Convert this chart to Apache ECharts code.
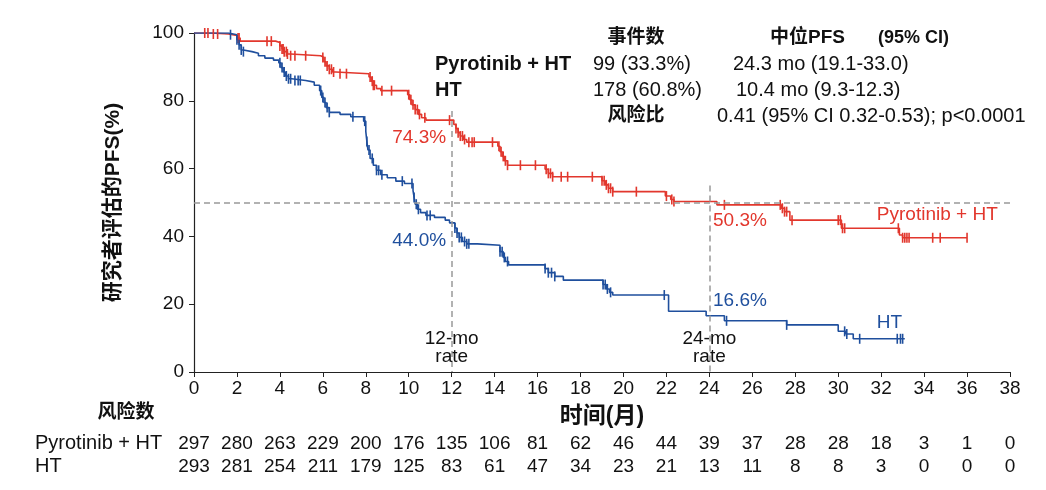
<!DOCTYPE html>
<html>
<head>
<meta charset="utf-8">
<script src="https://cdn.jsdelivr.net/npm/echarts@6/dist/echarts.min.js"></script>
<style>
html,body{margin:0;padding:0;background:#fff;}
#c{width:1046px;height:490px;}
</style>
</head>
<body>
<div id="c"></div>
<script>
// ---------- DATA ----------
const xTicks = [0,2,4,6,8,10,12,14,16,18,20,22,24,26,28,30,32,34,36,38];
const groups = ['Pyrotinib + HT', 'HT'];

// Kaplan-Meier steps [month, survival %] (value after the drop at that month)
const pyroSteps = [[0,100],[0.8,99.7],[1.6,99.3],[2.0,98.5],[2.15,97.6],[3.8,97.2],[4.0,96.2],[4.1,95.3],[4.2,94.5],[4.35,93.8],[4.5,93.3],[5.9,92.8],[6.05,91.5],[6.15,90.3],[6.3,89.3],[6.45,88.5],[6.6,88.0],[8.15,87.0],[8.25,85.8],[8.35,84.6],[8.5,83.6],[8.7,83.0],[9.95,81.8],[10.05,80.3],[10.15,78.8],[10.3,77.4],[10.45,76.0],[10.6,75.0],[10.8,74.3],[12.1,73.0],[12.2,71.8],[12.3,70.6],[12.4,69.6],[12.55,68.6],[12.7,67.8],[14.15,66.6],[14.25,65.0],[14.35,63.6],[14.45,62.3],[14.6,61.0],[16.35,59.8],[16.5,58.6],[16.7,57.6],[19.0,56.4],[19.15,55.2],[19.3,54.2],[19.5,53.2],[21.95,51.9],[22.2,50.9],[22.35,50.3],[24.35,49.3],[27.35,48.3],[27.5,47.3],[27.75,44.8],[30.15,42.4],[32.85,40.4],[33.0,39.6],[36.0,39.6]];
const htSteps = [[0,100],[1.6,99.5],[2.0,98.0],[2.1,96.5],[2.2,95.0],[2.3,94.5],[2.7,94.0],[3.0,93.3],[3.3,92.6],[3.7,92.0],[3.95,91.2],[4.05,89.8],[4.15,88.5],[4.25,87.3],[4.4,86.5],[4.55,86.0],[5.2,85.5],[5.6,84.6],[5.85,83.0],[5.95,81.0],[6.05,79.5],[6.15,78.0],[6.3,76.6],[6.8,76.0],[7.3,75.3],[7.9,74.0],[8.0,71.0],[8.05,68.0],[8.1,65.5],[8.2,63.0],[8.35,61.0],[8.5,59.5],[8.7,58.2],[9.0,57.3],[9.4,56.3],[9.8,55.6],[10.2,53.5],[10.25,51.5],[10.3,49.5],[10.4,48.0],[10.55,47.0],[10.8,46.2],[11.2,45.6],[11.7,44.8],[11.9,44.0],[12.15,42.5],[12.25,41.0],[12.35,39.7],[12.5,38.5],[12.7,37.8],[13.2,37.4],[14.25,35.5],[14.4,33.8],[14.5,32.6],[14.65,31.6],[16.35,30.5],[16.5,29.3],[16.8,28.2],[17.2,27.1],[19.05,25.8],[19.2,24.5],[19.35,23.5],[19.5,22.7],[22.1,17.9],[23.85,16.6],[24.7,15.1],[27.6,13.9],[30.0,12.0],[30.35,11.2],[30.7,9.8],[33.1,9.8]];

// Censoring times (months)
const pyroCensor = [0.5,0.65,0.9,1.1,2.05,2.1,3.4,3.6,4.0,4.1,4.15,4.2,4.3,4.35,4.5,4.7,5.2,6.0,6.1,6.2,6.3,6.4,6.5,6.8,7.1,8.2,8.3,8.35,8.4,8.75,9.2,10.0,10.1,10.2,10.3,10.4,10.5,10.75,11.9,12.2,12.3,12.4,12.5,12.6,12.8,12.95,13.05,13.9,14.2,14.3,14.4,14.5,14.6,15.2,15.9,16.4,16.5,16.6,16.7,17.1,17.4,18.55,19.0,19.1,19.2,19.3,19.4,19.5,20.6,22.0,22.25,22.35,24.7,27.3,27.4,27.5,27.6,27.85,30.0,30.1,30.2,30.3,32.8,33.0,33.1,33.2,33.3,34.4,34.75,36.0];
const htCensor = [1.7,2.0,2.1,2.2,2.3,4.0,4.1,4.2,4.3,4.4,4.5,4.7,4.85,4.95,5.9,6.0,6.1,6.2,6.3,7.4,7.95,8.05,8.15,8.3,8.5,8.6,8.75,9.7,10.15,10.25,10.35,10.45,10.85,11.0,12.15,12.25,12.35,12.45,12.6,12.7,12.8,14.25,14.35,14.45,14.6,16.35,16.5,16.65,16.8,19.05,19.15,19.25,19.4,21.9,24.8,27.6,30.3,30.4,31.0,32.75,32.9,33.0];

// Numbers at risk
const pyroRisk = [297,280,263,229,200,176,135,106,81,62,46,44,39,37,28,28,18,3,1,0];
const htRisk   = [293,281,254,211,179,125,83,61,47,34,23,21,13,11,8,8,3,0,0,0];

// Reference lines: [x1,y1,x2,y2]
const refLines = [[0,50,38,50],[12,77,12,0],[24,55,24,0]];

// Landmark labels: [month, %, text]
const rateLabels = [[12,'74.3%','44.0%'],[24,'50.3%','16.6%']];

// Summary text
const summaryHead = ['事件数', '中位PFS', '(95% CI)'];
const summaryRows = [
  ['Pyrotinib + HT', '99 (33.3%)', '24.3 mo (19.1-33.0)'],
  ['HT', '178 (60.8%)', '10.4 mo (9.3-12.3)']
];
const hrLabel = '风险比';
const hrText = '0.41 (95% CI 0.32-0.53); p<0.0001';

// ---------- CHART ----------
const RED = '#e2372d';
const BLUE = '#1f4f9d';
const FONT = "'Liberation Sans', Arial, 'Noto Sans CJK SC', sans-serif";

function stepValue(steps, t) {
  let v = steps[0][1];
  for (const s of steps) { if (s[0] <= t) v = s[1]; else break; }
  return v;
}
const pyroCensorPts = pyroCensor.map(t => [t, stepValue(pyroSteps, t)]);
const htCensorPts = htCensor.map(t => [t, stepValue(htSteps, t)]);

const riskData = [];
xTicks.forEach((t, i) => {
  riskData.push([t, groups[0], pyroRisk[i]]);
  riskData.push([t, groups[1], htRisk[i]]);
});

function lbl(x, y, text, color, align) {
  return { value: [x, y], label: { formatter: text, color: color, align: align } };
}
const annot = [
  lbl(11.74, 69.0, rateLabels[0][1], RED, 'right'),
  lbl(11.74, 38.6, rateLabels[0][2], BLUE, 'right'),
  lbl(24.17, 44.5, rateLabels[1][1], RED, 'left'),
  lbl(24.17, 20.9, rateLabels[1][2], BLUE, 'left'),
  lbl(31.8, 46.3, groups[0], RED, 'left'),
  lbl(31.8, 14.5, groups[1], BLUE, 'left'),
  lbl(12, 9.7, '12-mo', '#111', 'center'),
  lbl(12, 4.4, 'rate', '#111', 'center'),
  lbl(24, 9.7, '24-mo', '#111', 'center'),
  lbl(24, 4.4, 'rate', '#111', 'center')
];

const chart = echarts.init(document.getElementById('c'), null, { renderer: 'canvas' });

function txt(text, x, y, opts) {
  return {
    type: 'text', x: x, y: y, silent: true,
    style: Object.assign({ text: text, x: 0, y: 0, fill: '#111', font: '20px ' + FONT,
      textAlign: 'left', textVerticalAlign: 'middle' }, opts || {})
  };
}
const BOLD = 'bold 19px ' + FONT;

chart.setOption({
  animation: false,
  backgroundColor: '#fff',
  textStyle: { fontFamily: FONT },
  grid: [
    { left: 194, right: 36, top: 33, bottom: 118 },
    { left: 194, right: 36, top: 432, height: 46 }
  ],
  xAxis: [
    {
      gridIndex: 0, type: 'value', min: 0, max: 38, interval: 2,
      axisLine: { show: true, lineStyle: { color: '#222', width: 1.2 } },
      axisTick: { show: true, length: 5, lineStyle: { color: '#222' } },
      axisLabel: { fontSize: 19, color: '#111', margin: 7, fontFamily: FONT },
      splitLine: { show: false },
      name: '时间(月)', nameLocation: 'middle', nameGap: 33,
      nameTextStyle: { fontSize: 23, fontWeight: 'bold', color: '#111', fontFamily: FONT }
    },
    { gridIndex: 1, type: 'value', min: 0, max: 38, show: false }
  ],
  yAxis: [
    {
      gridIndex: 0, type: 'value', min: 0, max: 100, interval: 20,
      axisLine: { show: true, lineStyle: { color: '#222', width: 1.2 } },
      axisTick: { show: true, length: 5, lineStyle: { color: '#222' } },
      axisLabel: { fontSize: 19, color: '#111', margin: 10, fontFamily: FONT },
      splitLine: { show: false },
      name: '研究者评估的PFS(%)', nameLocation: 'middle', nameGap: 70, nameRotate: 90,
      nameTextStyle: { fontSize: 21, fontWeight: 'bold', color: '#111', fontFamily: FONT }
    },
    {
      gridIndex: 1, type: 'category', data: groups, inverse: true,
      axisLine: { show: false }, axisTick: { show: false }, splitLine: { show: false },
      axisLabel: { interval: 0, align: 'left', margin: 159, fontSize: 20, color: '#111', fontFamily: FONT }
    }
  ],
  series: [
    {
      name: 'Pyrotinib + HT', type: 'line', step: 'end', xAxisIndex: 0, yAxisIndex: 0,
      data: pyroSteps, showSymbol: false, symbol: 'none',
      lineStyle: { color: RED, width: 1.6 }, z: 3,
      markLine: {
        silent: true, symbol: 'none', label: { show: false },
        lineStyle: { color: '#999', type: [6, 4], width: 1.5 },
        data: refLines.map(r => [{ coord: [r[0], r[1]] }, { coord: [r[2], r[3]] }])
      }
    },
    {
      name: 'HT', type: 'line', step: 'end', xAxisIndex: 0, yAxisIndex: 0,
      data: htSteps, showSymbol: false, symbol: 'none',
      lineStyle: { color: BLUE, width: 1.6 }, z: 3
    },
    {
      type: 'scatter', xAxisIndex: 0, yAxisIndex: 0, data: pyroCensorPts,
      symbol: 'rect', symbolSize: [1.6, 10], itemStyle: { color: RED, opacity: 1 }, z: 4
    },
    {
      type: 'scatter', xAxisIndex: 0, yAxisIndex: 0, data: htCensorPts,
      symbol: 'rect', symbolSize: [1.6, 10], itemStyle: { color: BLUE, opacity: 1 }, z: 4
    },
    {
      type: 'scatter', xAxisIndex: 0, yAxisIndex: 0, data: annot,
      symbolSize: 0.01, itemStyle: { color: '#fff', opacity: 1 }, z: 5,
      label: { show: true, position: 'inside', fontSize: 19, fontFamily: FONT, verticalAlign: 'middle', opacity: 1 }
    },
    {
      type: 'scatter', xAxisIndex: 1, yAxisIndex: 1, data: riskData,
      symbolSize: 0.01, itemStyle: { color: '#fff', opacity: 1 },
      label: { show: true, position: 'inside', formatter: p => String(p.data[2]),
        fontSize: 19, color: '#111', fontFamily: FONT, opacity: 1 }
    }
  ],
  graphic: [
    txt(summaryHead[0], 636, 38, { font: BOLD, textAlign: 'center' }),
    txt(summaryHead[1], 770, 38, { font: BOLD }),
    txt(summaryHead[2], 878, 38, { font: 'bold 18px ' + FONT }),
    txt(summaryRows[0][0], 435, 64, { font: 'bold 20px ' + FONT }),
    txt(summaryRows[0][1], 593, 64),
    txt(summaryRows[0][2], 733, 64),
    txt(summaryRows[1][0], 435, 90, { font: 'bold 20px ' + FONT }),
    txt(summaryRows[1][1], 593, 90),
    txt(summaryRows[1][2], 736, 90),
    txt(hrLabel, 636, 116, { font: BOLD, textAlign: 'center' }),
    txt(hrText, 717, 116),
    txt('风险数', 126, 413, { font: BOLD, textAlign: 'center' })
  ]
});
</script>
</body>
</html>
